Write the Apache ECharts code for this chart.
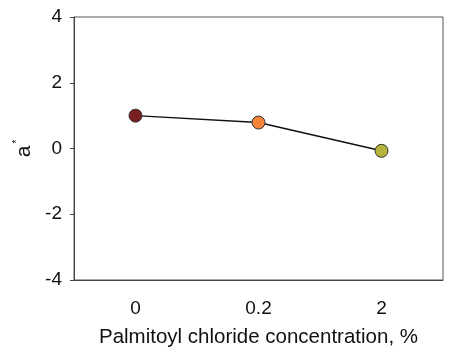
<!DOCTYPE html>
<html>
<head>
<meta charset="utf-8">
<script src="https://cdn.jsdelivr.net/npm/echarts@6/dist/echarts.min.js"></script>
<style>
  html, body { margin: 0; padding: 0; background: #fff; }
  #main { width: 454px; height: 353px; }
</style>
</head>
<body>
<div id="main"></div>
<script>
// concentrations (category axis)
var concentrations = ['0', '0.2', '2']
// a* values
var aValues = [1.0, 0.79, -0.07]
var pointColors = ['#7b1e22', '#f5843a', '#b7b43c']
var yTicks = { min: -4, max: 4, interval: 2 }

var myChart = echarts.init(document.getElementById('main'))
var fontFamily = '"Liberation Sans", Arial, sans-serif'

var seriesData = []
for (var i = 0; i < aValues.length; i++) {
  seriesData.push({
    value: aValues[i],
    itemStyle: { color: pointColors[i] }
  })
}

var option = {
  animation: false,
  textStyle: { fontFamily: fontFamily },
  grid: {
    left: 74,
    right: 11,
    top: 17,
    bottom: 71,
    show: true,
    borderColor: '#555',
    borderWidth: 1
  },
  xAxis: {
    type: 'category',
    data: concentrations,
    boundaryGap: true,
    name: 'Palmitoyl chloride concentration, %',
    nameLocation: 'middle',
    nameGap: 47,
    nameTextStyle: { fontSize: 20.5, color: '#111', fontFamily: fontFamily },
    axisLine: { onZero: false, lineStyle: { color: '#444', width: 1 } },
    axisTick: { alignWithLabel: true, length: 3, lineStyle: { color: '#aaa' } },
    axisLabel: { fontSize: 19, color: '#111', margin: 19, fontFamily: fontFamily },
    splitLine: { show: false }
  },
  yAxis: {
    type: 'value',
    min: yTicks.min,
    max: yTicks.max,
    interval: yTicks.interval,
    name: '{a|a}{s|*}',
    nameLocation: 'middle',
    nameGap: 38,
    nameTextStyle: {
      rich: {
        a: { fontSize: 21, color: '#111', fontFamily: fontFamily },
        s: { fontSize: 10, color: '#111', verticalAlign: 'top', padding: [0, 0, 12, 2], fontFamily: fontFamily }
      }
    },
    axisLine: { show: true, lineStyle: { color: '#444', width: 1 } },
    axisTick: { show: true, length: 4, lineStyle: { color: '#444' } },
    axisLabel: { fontSize: 19, color: '#111', margin: 12, fontFamily: fontFamily },
    splitLine: { show: false }
  },
  series: [
    {
      type: 'line',
      data: seriesData,
      symbol: 'circle',
      symbolSize: 13,
      lineStyle: { color: '#111', width: 1.5 },
      itemStyle: { borderColor: '#333', borderWidth: 1 }
    }
  ]
}
myChart.setOption(option)
</script>
</body>
</html>
